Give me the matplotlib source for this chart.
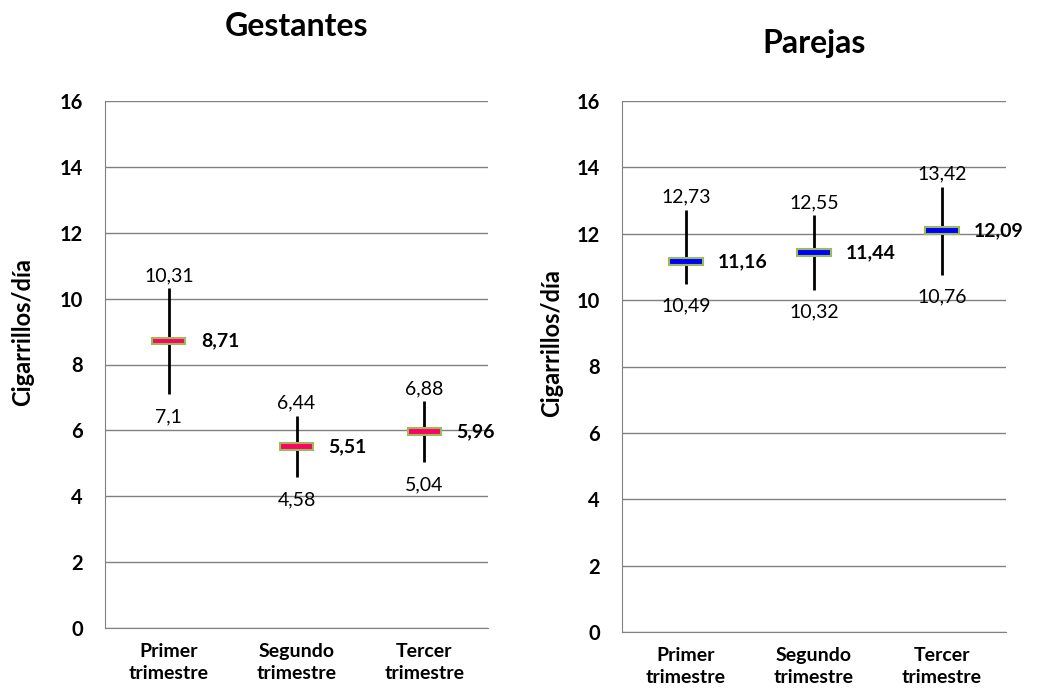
import matplotlib.pyplot as plt

plt.rcParams['font.family'] = ['Lato', 'DejaVu Sans']

categorias = ['Primer\ntrimestre', 'Segundo\ntrimestre', 'Tercer\ntrimestre']

gest_media = [8.71, 5.51, 5.96]
gest_max = [10.31, 6.44, 6.88]
gest_min = [7.1, 4.58, 5.04]

par_media = [11.16, 11.44, 12.09]
par_max = [12.73, 12.55, 13.42]
par_min = [10.49, 10.32, 10.76]

W, H = 1046, 697


def fmt(v):
    return ('%g' % v).replace('.', ',')


def panel(ax, titulo, media, alto, bajo, color, title_y):
    x = range(len(categorias))
    ax.vlines(x, bajo, alto, color='black', lw=2, zorder=3)
    for i, m in enumerate(media):
        ax.add_patch(plt.Rectangle((i - 0.13, m - 0.1), 0.26, 0.2,
                                   facecolor=color, edgecolor='#9BBB59',
                                   lw=1.5, zorder=4))
        ax.annotate(fmt(m), (i, m), xytext=(23, 0), textcoords='offset points',
                    ha='left', va='center', fontsize=14, fontweight='bold')
        ax.annotate(fmt(alto[i]), (i, alto[i]), xytext=(0, 3),
                    textcoords='offset points', ha='center', va='bottom',
                    fontsize=14)
        ax.annotate(fmt(bajo[i]), (i, bajo[i]), xytext=(0, -10),
                    textcoords='offset points', ha='center', va='top',
                    fontsize=14)
    ax.set_xlim(-0.5, 2.5)
    ax.set_ylim(0, 16)
    ax.set_yticks(range(0, 17, 2))
    ax.yaxis.grid(True, color='#808080', lw=1)
    ax.set_axisbelow(True)
    ax.set_xticks(list(x))
    ax.set_xticklabels(categorias, fontsize=14, fontweight='bold',
                       linespacing=1.35)
    for lbl in ax.get_yticklabels():
        lbl.set_fontweight('bold')
        lbl.set_fontsize(14.5)
    ax.tick_params(axis='y', length=0, pad=16)
    ax.tick_params(axis='x', length=0, pad=11)
    for s in ['top', 'right']:
        ax.spines[s].set_visible(False)
    for s in ['left', 'bottom']:
        ax.spines[s].set_color('#808080')
    ax.text(0.5, title_y, titulo, transform=ax.transAxes, ha='center',
            va='center', fontsize=23, fontweight='bold')


fig = plt.figure(figsize=(W / 100, H / 100), dpi=100)
ax1 = fig.add_axes([105 / W, 1 - 628 / H, 383 / W, 527 / H])
ax2 = fig.add_axes([622 / W, 1 - 632 / H, 384 / W, 531 / H])

panel(ax1, 'Gestantes', gest_media, gest_max, gest_min, '#FF0066',
      (628 - 27) / 527)
panel(ax2, 'Parejas', par_media, par_max, par_min, '#0000FF',
      (632 - 43) / 531)

# ejes Y con el rótulo desplazado hacia arriba
for px, py in [(23, 332), (552, 343)]:
    fig.text(px / W, 1 - py / H, 'Cigarrillos/día', rotation=90,
             ha='center', va='center', fontsize=17, fontweight='bold')

fig.savefig('out.png', dpi=100)
